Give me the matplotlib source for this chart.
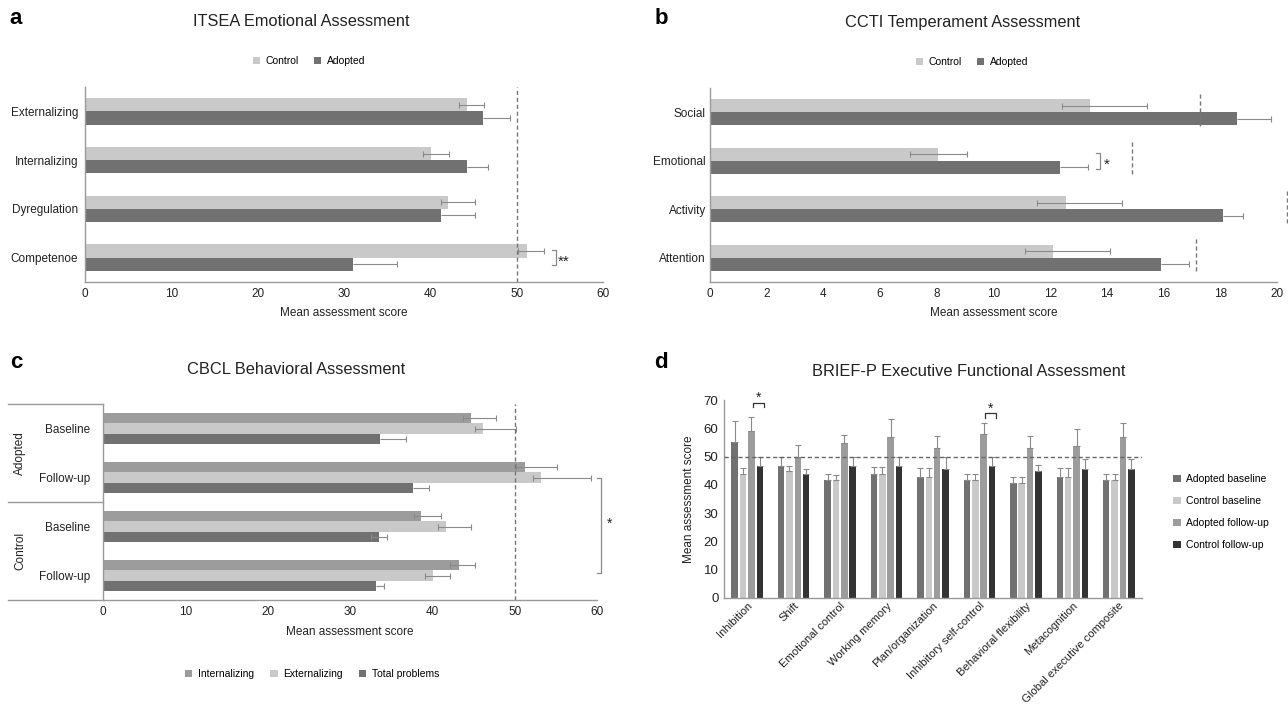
import numpy as np
import matplotlib.pyplot as plt

plt.rcParams['font.family'] = ['Liberation Sans', 'DejaVu Sans']

# data ------------------------------------------------------------------------

itsea_cats = ['Externalizing', 'Internalizing', 'Dyregulation', 'Competenoe']
itsea_control = [44.2, 40.1, 42.1, 51.2]
itsea_control_lo = [0.9, 0.9, 0.9, 1.0]
itsea_control_hi = [2.0, 2.1, 3.1, 2.0]
itsea_adopted = [46.1, 44.2, 41.2, 31.0]
itsea_adopted_hi = [3.1, 2.5, 4.0, 5.1]

ccti_cats = ['Social', 'Emotional', 'Activity', 'Attention']
ccti_control = [13.4, 8.05, 12.55, 12.1]
ccti_control_lo = [1.0, 1.0, 1.0, 1.0]
ccti_control_hi = [2.0, 1.0, 2.0, 2.0]
ccti_adopted = [18.6, 12.35, 18.1, 15.9]
ccti_adopted_hi = [1.2, 1.0, 0.7, 1.0]
ccti_norm = [17.3, 14.9, 20.35, 17.15]

cbcl_cats = ['Baseline', 'Follow-up', 'Baseline', 'Follow-up']
cbcl_groups = ['Adopted', 'Control']
cbcl_int = [44.7, 51.2, 38.6, 43.2]
cbcl_int_lo = [1.0, 1.0, 0.8, 1.1]
cbcl_int_hi = [3.0, 4.0, 2.4, 2.0]
cbcl_ext = [46.2, 53.2, 41.6, 40.1]
cbcl_ext_lo = [1.0, 1.0, 0.9, 1.0]
cbcl_ext_hi = [4.0, 6.1, 3.1, 2.0]
cbcl_tot = [33.7, 37.6, 33.5, 33.1]
cbcl_tot_lo = [0.0, 0.0, 1.0, 0.0]
cbcl_tot_hi = [3.1, 2.0, 1.0, 1.0]

brief_cats = ['Inhibition', 'Shift', 'Emotional control', 'Working memory',
              'Plan/organization', 'Inhibitory self-control',
              'Behavioral flexibility', 'Metacognition',
              'Global executive composite']
brief_labels = ['Adopted baseline', 'Control baseline',
                'Adopted follow-up', 'Control follow-up']
brief_ab = [55.2, 46.7, 41.8, 43.9, 42.9, 41.8, 40.8, 42.9, 41.8]
brief_ab_err = [7.3, 3.0, 2.1, 2.4, 3.1, 2.1, 2.1, 3.1, 2.1]
brief_cb = [43.8, 45.0, 41.8, 43.9, 42.9, 41.8, 40.8, 42.9, 41.8]
brief_cb_err = [2.2, 1.7, 1.8, 2.4, 3.1, 2.1, 2.1, 3.1, 2.1]
brief_af = [59.1, 49.9, 54.7, 56.8, 53.1, 57.9, 53.1, 53.7, 56.8]
brief_af_err = [5.0, 4.1, 3.1, 6.4, 4.3, 4.1, 4.0, 6.2, 5.2]
brief_cf = [46.7, 43.9, 46.7, 46.7, 45.7, 46.7, 45.0, 45.7, 45.7]
brief_cf_err = [3.0, 1.7, 3.0, 3.0, 4.0, 3.0, 2.1, 3.4, 3.4]

# styles ----------------------------------------------------------------------

LIGHT = '#c9c9c9'
MID = '#9c9c9c'
DARK = '#717171'
BLACK = '#333333'
AXIS = '#9a9a9a'
ERR = '#8a8a8a'
TXT = '#222222'
W, H = 1288, 709

def rect(l, t, r, b):
    return [l / W, 1 - b / H, (r - l) / W, (b - t) / H]

def style(ax):
    for s in ['top', 'right']:
        ax.spines[s].set_visible(False)
    for s in ['left', 'bottom']:
        ax.spines[s].set_color(AXIS)
        ax.spines[s].set_linewidth(1.0)
    ax.tick_params(length=0, labelsize=8.5, colors=TXT)
    ax.tick_params(axis='x', pad=4)

def herr(ax, vals, ys, lo, hi):
    # error line with a cap only where the error is non zero
    vals, ys, lo, hi = map(np.asarray, (vals, ys, lo, hi))
    ax.hlines(ys, vals - lo, vals + hi, color=ERR, lw=0.8, zorder=3)
    ax.plot(vals + hi, ys, ls='none', marker='|', ms=5, mew=0.8, color=ERR,
            zorder=3)
    m = lo > 0
    ax.plot((vals - lo)[m], ys[m], ls='none', marker='|', ms=5, mew=0.8,
            color=ERR, zorder=3)

def hbracket(ax, x, y0, y1, label, dx):
    ax.plot([x - dx, x, x, x - dx], [y0, y0, y1, y1], color=ERR, lw=0.9,
            clip_on=False)
    ax.text(x + dx * 0.8, (y0 + y1) / 2 + 0.08, label, ha='left', va='center',
            fontsize=11, color=TXT, clip_on=False)

fig = plt.figure(figsize=(12.88, 7.09), dpi=100)

# a: ITSEA --------------------------------------------------------------------

ax = fig.add_axes(rect(85, 87, 603, 282))
style(ax)
y = np.arange(len(itsea_cats))
h = 0.27
b1 = ax.barh(y - h / 2, itsea_control, height=h, color=LIGHT, label='Control')
b2 = ax.barh(y + h / 2, itsea_adopted, height=h, color=DARK, label='Adopted')
herr(ax, itsea_control, y - h / 2, itsea_control_lo, itsea_control_hi)
herr(ax, itsea_adopted, y + h / 2, [0] * 4, itsea_adopted_hi)
ax.axvline(50, color='#777777', lw=1, ls=(0, (3, 2)), zorder=4)
ax.set_xlim(0, 60)
ax.set_xticks(range(0, 61, 10))
ax.set_ylim(3.5, -0.5)
ax.set_yticks(y)
ax.set_yticklabels(itsea_cats)
ax.tick_params(axis='y', pad=5)
ax.set_xlabel('Mean assessment score', fontsize=8.5, color=TXT, labelpad=5)
hbracket(ax, 54.5, 3 - 0.15, 3 + 0.15, '**', 0.4)
fig.text(301 / W, 1 - 22 / H, 'ITSEA Emotional Assessment', ha='center',
         va='center', fontsize=11.8, color=TXT)
fig.legend(handles=[b1, b2], loc='center', bbox_to_anchor=(309 / W, 1 - 61 / H),
           ncol=2, frameon=False, fontsize=7.5, handlelength=0.7,
           handleheight=0.7, handletextpad=0.5, columnspacing=1.5)
fig.text(16 / W, 1 - 19 / H, 'a', fontsize=16, fontweight='bold',
         ha='center', va='center')

# b: CCTI ---------------------------------------------------------------------

ax = fig.add_axes(rect(710, 88, 1277, 282))
style(ax)
y = np.arange(len(ccti_cats))
b1 = ax.barh(y - h / 2, ccti_control, height=h, color=LIGHT, label='Control')
b2 = ax.barh(y + h / 2, ccti_adopted, height=h, color=DARK, label='Adopted')
herr(ax, ccti_control, y - h / 2, ccti_control_lo, ccti_control_hi)
herr(ax, ccti_adopted, y + h / 2, [0] * 4, ccti_adopted_hi)
for yi, xv in zip(y, ccti_norm):
    ax.plot([xv, xv], [yi - 0.38, yi + 0.3], color='#777777', lw=1,
            ls=(0, (3, 2)), clip_on=False, zorder=4)
ax.set_xlim(0, 20)
ax.set_xticks(range(0, 21, 2))
ax.set_ylim(3.5, -0.5)
ax.set_yticks(y)
ax.set_yticklabels(ccti_cats)
ax.tick_params(axis='y', pad=3)
ax.set_xlabel('Mean assessment score', fontsize=8.5, color=TXT, labelpad=5)
hbracket(ax, 13.77, 1 - 0.16, 1 + 0.16, '*', 0.15)
fig.text(963 / W, 1 - 22 / H, 'CCTI Temperament Assessment', ha='center',
         va='center', fontsize=11.8, color=TXT)
fig.legend(handles=[b1, b2], loc='center', bbox_to_anchor=(972 / W, 1 - 62 / H),
           ncol=2, frameon=False, fontsize=7.5, handlelength=0.7,
           handleheight=0.7, handletextpad=0.5, columnspacing=1.5)
fig.text(661 / W, 1 - 18 / H, 'b', fontsize=16, fontweight='bold',
         ha='center', va='center')

# c: CBCL ---------------------------------------------------------------------

ax = fig.add_axes(rect(103, 404, 597, 600))
style(ax)
y = np.arange(len(cbcl_cats))
h3 = 0.21
b1 = ax.barh(y - h3, cbcl_int, height=h3, color=MID, label='Internalizing')
b2 = ax.barh(y, cbcl_ext, height=h3, color=LIGHT, label='Externalizing')
b3 = ax.barh(y + h3, cbcl_tot, height=h3, color=DARK, label='Total problems')
herr(ax, cbcl_int, y - h3, cbcl_int_lo, cbcl_int_hi)
herr(ax, cbcl_ext, y, cbcl_ext_lo, cbcl_ext_hi)
herr(ax, cbcl_tot, y + h3, cbcl_tot_lo, cbcl_tot_hi)
ax.axvline(50, color='#777777', lw=1, ls=(0, (3, 2)), zorder=4)
ax.set_xlim(0, 60)
ax.set_xticks(range(0, 61, 10))
ax.set_ylim(3.5, -0.5)
ax.set_yticks(y)
ax.set_yticklabels(cbcl_cats)
ax.tick_params(axis='y', pad=9)
ax.set_xlabel('Mean assessment score', fontsize=8.5, color=TXT, labelpad=6)
ytr = ax.get_yaxis_transform()
for yl in [-0.5, 1.5, 3.5]:
    ax.plot([-0.193, 0], [yl, yl], color=AXIS, lw=1, transform=ytr,
            clip_on=False)
for i, g in enumerate(cbcl_groups):
    ax.text(-0.168, 2 * i + 0.5, g, rotation=90, ha='center', va='center',
            transform=ytr, fontsize=8.5, color=TXT)
ax.plot([60.0, 60.5, 60.5, 60.0], [1, 1, 2.95, 2.95], color=ERR, lw=0.9,
        clip_on=False)
ax.text(61.2, 1.95, '*', ha='left', va='center', fontsize=10, color=TXT,
        clip_on=False)
fig.text(296 / W, 1 - 370 / H, 'CBCL Behavioral Assessment', ha='center',
         va='center', fontsize=11.8, color=TXT)
fig.legend(handles=[b1, b2, b3], loc='center',
           bbox_to_anchor=(312 / W, 1 - 674 / H), ncol=3, frameon=False,
           fontsize=7.5, handlelength=0.7, handleheight=0.7,
           handletextpad=0.5, columnspacing=1.6)
fig.text(16 / W, 1 - 363 / H, 'c', fontsize=16, fontweight='bold',
         ha='center', va='center')

# d: BRIEF-P ------------------------------------------------------------------

ax = fig.add_axes(rect(724, 400, 1142, 598))
style(ax)
x = np.arange(len(brief_cats))
bw = 0.14
series = [(brief_ab, brief_ab_err, DARK), (brief_cb, brief_cb_err, LIGHT),
          (brief_af, brief_af_err, MID), (brief_cf, brief_cf_err, BLACK)]
offsets = [-0.27, -0.09, 0.09, 0.27]
handles = []
for (vals, err, col), off, lab in zip(series, offsets, brief_labels):
    bars = ax.bar(x + off, vals, width=bw, color=col, label=lab)
    ax.errorbar(x + off, vals, yerr=[[0] * len(vals), err], fmt='none',
                ecolor=ERR, elinewidth=0.8, capsize=2.5, capthick=0.8)
    handles.append(bars)
ax.axhline(50, color='#666666', lw=1, ls=(0, (3, 2)), zorder=4)
ax.set_xlim(-0.5, len(brief_cats) - 0.5)
ax.set_ylim(0, 70)
ax.set_yticks(range(0, 71, 10))
ax.set_xticks(x)
ax.set_xticklabels(brief_cats, rotation=45, ha='right', rotation_mode='anchor',
                   fontsize=8.1)
ax.tick_params(axis='x', pad=2)
ax.tick_params(axis='y', pad=4, labelsize=9.5)
ax.set_ylabel('Mean assessment score', fontsize=8.5, color=TXT, labelpad=6)
for xi, ytop in [(0, 69.0), (5, 65.3)]:
    x0, x1 = xi + 0.13, xi + 0.36
    ax.plot([x0, x0, x1, x1], [ytop - 1.5, ytop, ytop, ytop - 1.5], color=BLACK,
            lw=0.9, clip_on=False)
    ax.text((x0 + x1) / 2, ytop + 0.3, '*', ha='center', va='baseline',
            fontsize=10, color=TXT, clip_on=False)
fig.text(969 / W, 1 - 371 / H, 'BRIEF-P Executive Functional Assessment',
         ha='center', va='center', fontsize=11.8, color=TXT)
fig.legend(handles=handles, loc='upper left',
           bbox_to_anchor=(1164 / W, 1 - 465 / H), frameon=False,
           fontsize=7.5, handlelength=0.7, handleheight=0.7,
           handletextpad=0.5, labelspacing=1.15)
fig.text(661 / W, 1 - 363 / H, 'd', fontsize=16, fontweight='bold',
         ha='center', va='center')

fig.savefig('out.png', dpi=100)
